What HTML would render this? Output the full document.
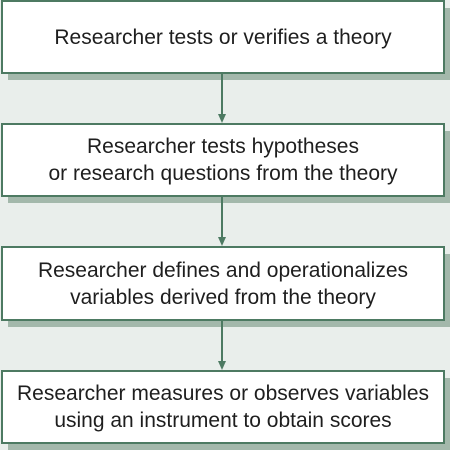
<!DOCTYPE html>
<html><head><meta charset="utf-8"><style>
html,body{margin:0;padding:0;}
body{width:450px;height:450px;background:#e9eeeb;position:relative;overflow:hidden;font-family:"Liberation Sans",sans-serif;}
.sh{position:absolute;background:#a3b8ab;}
.b{position:absolute;left:1px;width:440px;background:#fff;border:2px solid #4d7a62;display:flex;align-items:center;justify-content:center;text-align:center;font-size:21px;line-height:27px;color:#1e1e1e;}
svg{position:absolute;left:0;top:0;}
</style></head><body>
<div class="sh" style="left:8px;top:8px;width:442px;height:72px"></div>
<div class="sh" style="left:8px;top:131px;width:442px;height:72px"></div>
<div class="sh" style="left:8px;top:254px;width:442px;height:73px"></div>
<div class="sh" style="left:8px;top:378px;width:442px;height:72px"></div>
<div class="b" style="top:0;height:70px">Researcher tests or verifies a theory</div>
<div class="b" style="top:123px;height:70px">Researcher tests hypotheses<br>or research questions from the theory</div>
<div class="b" style="top:246px;height:71px">Researcher defines and operationalizes<br>variables derived from the theory</div>
<div class="b" style="top:370px;height:70px">Researcher measures or observes variables<br>using an instrument to obtain scores</div>
<svg width="450" height="450">
<g stroke="#4d7a62" stroke-width="2" fill="#4d7a62">
<line x1="222" y1="74" x2="222" y2="116"/><polygon points="218,114 226,114 222,123" stroke="none"/>
<line x1="222" y1="197" x2="222" y2="239"/><polygon points="218,237 226,237 222,246" stroke="none"/>
<line x1="222" y1="321" x2="222" y2="363"/><polygon points="218,361 226,361 222,370" stroke="none"/>
</g></svg>
</body></html>
